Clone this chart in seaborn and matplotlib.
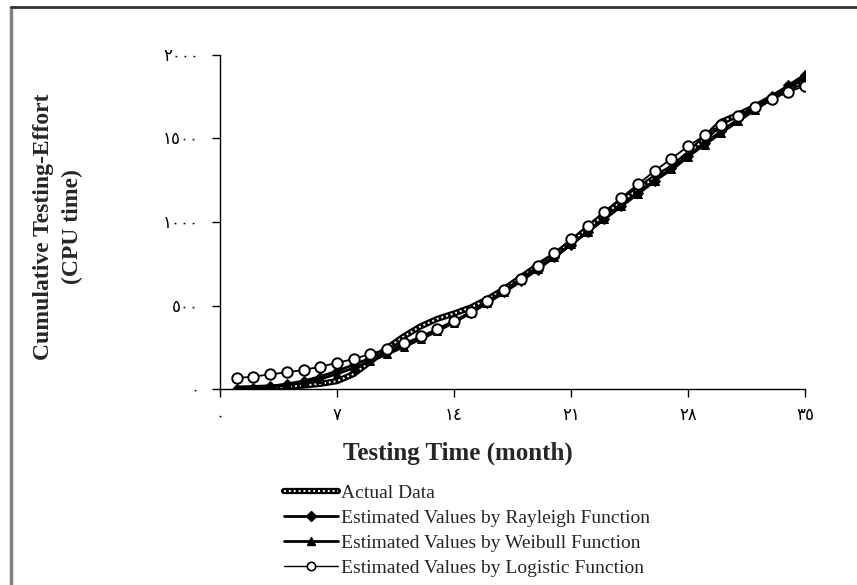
import matplotlib
matplotlib.use("Agg")
import matplotlib.pyplot as plt
import seaborn as sns
import pandas as pd
from matplotlib.lines import Line2D
from matplotlib.legend_handler import HandlerTuple

# ---- data ----
months = [1, 2, 3, 4, 5, 6, 7, 8, 9, 10, 11, 12, 13, 14, 15, 16, 17, 18,
          19, 20, 21, 22, 23, 24, 25, 26, 27, 28, 29, 30, 31, 32, 33, 34, 35]
actual = [2, 5, 9, 14, 21, 31, 47, 90, 165, 245, 315, 375, 420, 452, 488,
          538, 598, 668, 738, 800, 878, 962, 1045, 1122, 1195, 1265, 1322,
          1405, 1500, 1600, 1642, 1690, 1745, 1800, 1847]
rayleigh = [1, 7, 16, 30, 48, 74, 108, 145, 185, 222, 262, 307, 355, 405, 458,
            515, 578, 645, 715, 790, 865, 940, 1018, 1095, 1172, 1248, 1322,
            1398, 1472, 1545, 1615, 1685, 1752, 1818, 1882]
weibull = [0, 4, 11, 22, 38, 60, 90, 126, 166, 208, 252, 298, 346, 398, 455,
           517, 582, 650, 720, 792, 866, 941, 1017, 1093, 1168, 1243, 1318,
           1391, 1463, 1534, 1603, 1670, 1736, 1800, 1862]
logistic = [66, 74, 88, 100, 114, 134, 156, 180, 210, 240, 273, 315, 361, 409,
            463, 525, 593, 661, 735, 814, 896, 978, 1062, 1144, 1226, 1305,
            1379, 1453, 1519, 1579, 1637, 1691, 1736, 1778, 1816]

xticks = [0, 7, 14, 21, 28, 35]
xtick_labels = ["٠", "٧", "١٤", "٢١", "٢٨", "٣٥"]
yticks = [0, 500, 1000, 1500, 2000]
ytick_labels = ["٠", "٥٠٠", "١٠٠٠", "١٥٠٠", "٢٠٠٠"]

legend_labels = ["Actual Data",
                 "Estimated Values by Rayleigh Function",
                 "Estimated Values by Weibull Function",
                 "Estimated Values by Logistic Function"]

sns.set_theme(style="white")
plt.rcParams["font.family"] = ["Liberation Serif", "DejaVu Sans"]

df = pd.DataFrame({"t": months, "actual": actual, "rayleigh": rayleigh,
                   "weibull": weibull, "logistic": logistic})

fig = plt.figure(figsize=(8.57, 5.85), dpi=100)
ax = fig.add_axes([220 / 857, 1 - 389 / 585, (805 - 220) / 857, (389 - 55) / 585])

# actual: thick black with white dots inside
sns.lineplot(data=df, x="t", y="actual", ax=ax, color="black", lw=4.5,
             zorder=2, legend=False)
sns.lineplot(data=df, x="t", y="actual", ax=ax, color="white", lw=1.4,
             linestyle=(0, (1, 1.5)), zorder=2.1, legend=False)
sns.lineplot(data=df, x="t", y="rayleigh", ax=ax, color="black", lw=2,
             marker="D", markersize=5, markeredgecolor="black",
             markerfacecolor="black", zorder=3, legend=False)
sns.lineplot(data=df, x="t", y="weibull", ax=ax, color="black", lw=2,
             marker="^", markersize=6, markeredgecolor="black",
             markerfacecolor="black", zorder=3.5, legend=False)
sns.lineplot(data=df, x="t", y="logistic", ax=ax, color="black", lw=1.3,
             marker="o", markersize=7.5, markeredgecolor="black",
             markeredgewidth=1.4, markerfacecolor="white", zorder=4,
             legend=False)

ax.set_xlim(0, 35)
ax.set_ylim(0, 2000)
ax.set_xticks(xticks)
ax.set_xticklabels(xtick_labels, fontsize=12, family=["Liberation Serif", "DejaVu Sans"])
ax.set_yticks(yticks)
ax.set_yticklabels(ytick_labels, fontsize=12, family=["Liberation Serif", "DejaVu Sans"])
ax.tick_params(axis="both", direction="out", length=6, width=1, color="black",
               labelcolor="black")
ax.tick_params(axis="x", pad=8, bottom=True)
ax.tick_params(axis="y", pad=9, left=True)
for s in ["top", "right"]:
    ax.spines[s].set_visible(False)
for s in ["left", "bottom"]:
    ax.spines[s].set_color("black")
    ax.spines[s].set_linewidth(1)
ax.set_xlabel("")
ax.set_ylabel("")
ax.grid(False)

fig.text(343 / 857, 1 - 453 / 585, "Testing Time (month)", ha="left",
         va="center", fontsize=18, fontweight="bold")
fig.text(58 / 857, 1 - 227 / 585, "Cumulative Testing-Effort\n(CPU time)",
         ha="center", va="center", rotation=90, fontsize=17,
         fontweight="bold", multialignment="center", linespacing=1.45)

# legend
h_act = (Line2D([], [], color="black", lw=4.5),
         Line2D([], [], color="white", lw=1.4, linestyle=(0, (1, 1.5))))
h_ray = Line2D([], [], color="black", lw=2, marker="D", markersize=5,
               markerfacecolor="black")
h_wei = Line2D([], [], color="black", lw=2, marker="^", markersize=6,
               markerfacecolor="black")
h_log = Line2D([], [], color="black", lw=1.0, marker="o", markersize=6,
               markerfacecolor="white", markeredgewidth=1.2)
fig.legend([h_act, h_ray, h_wei, h_log], legend_labels,
           handler_map={tuple: HandlerTuple(ndivide=1)},
           loc="upper left", bbox_to_anchor=(284 / 857, 1 - 484 / 585),
           frameon=False, fontsize=14, handlelength=2.8, handletextpad=0.15,
           labelspacing=0.38, borderpad=0, borderaxespad=0)

# frame lines on the left and top of the figure
fig.add_artist(Line2D([11 / 857, 11 / 857], [0, 1 - 7 / 585],
                      transform=fig.transFigure, color="#808080", lw=2.5))
fig.add_artist(Line2D([11 / 857, 1], [1 - 7 / 585, 1 - 7 / 585],
                      transform=fig.transFigure, color="#333333", lw=2))

fig.savefig("out.png", dpi=100)
